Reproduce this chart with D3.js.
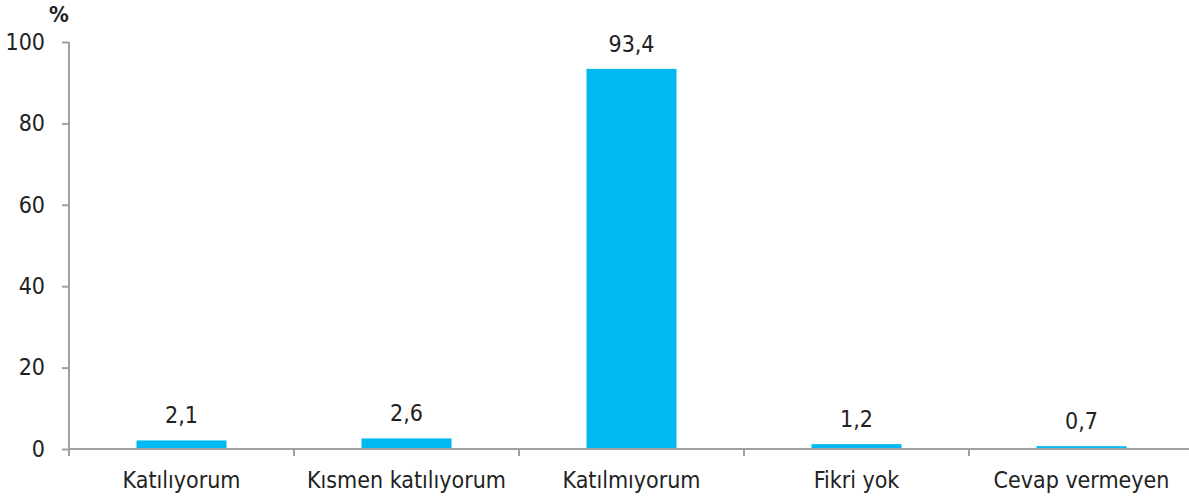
<!DOCTYPE html>
<html>
<head>
<meta charset="utf-8">
<script src="https://cdn.jsdelivr.net/npm/d3@7"></script>
<style>
  html, body { margin: 0; padding: 0; background: #fff; }
  svg { display: block; }
  text { font-family: "DejaVu Sans Condensed", "DejaVu Sans", sans-serif; font-stretch: condensed; fill: #222; }
</style>
</head>
<body>
<svg id="chart" width="1189" height="499"></svg>
<script>
const categories = ["Katılıyorum", "Kısmen katılıyorum", "Katılmıyorum", "Fikri yok", "Cevap vermeyen"];
const values = [2.1, 2.6, 93.4, 1.2, 0.7];
const valueLabels = ["2,1", "2,6", "93,4", "1,2", "0,7"];
const yTicks = [0, 20, 40, 60, 80, 100];
const yUnit = "%";

const svg = d3.select("#chart");
const axisColor = "#a0a0a0";
const barColor = "#00b9f2";
const fontSize = 23;
const fontFam = '"DejaVu Sans Condensed", "DejaVu Sans", sans-serif';

const x0 = 69, x1 = 1194, yBase = 449, yTop = 42;

const x = d3.scaleBand().domain(categories).range([x0, x1]).paddingInner(0).paddingOuter(0);
const y = d3.scaleLinear().domain([0, 100]).range([yBase, yTop]);
const barW = x.bandwidth() * 0.4;

// Bars
svg.append("g").selectAll("rect").data(values).join("rect")
  .attr("x", (d, i) => x(categories[i]) + (x.bandwidth() - barW) / 2)
  .attr("y", d => y(d))
  .attr("width", barW)
  .attr("height", d => y(0) - y(d))
  .attr("fill", barColor);

// Value labels
svg.append("g").selectAll("text").data(values).join("text")
  .attr("x", (d, i) => x(categories[i]) + x.bandwidth() / 2)
  .attr("y", d => y(d) - 17)
  .attr("text-anchor", "middle")
  .style("font-size", fontSize + "px")
  .text((d, i) => valueLabels[i]);

// Y axis
const yAxis = d3.axisLeft(y).tickValues(yTicks).tickSize(7).tickPadding(17).tickFormat(d3.format("d"));
const gy = svg.append("g").attr("transform", `translate(${x0},0)`).call(yAxis);
gy.select(".domain").remove();
gy.selectAll(".tick line").attr("stroke", axisColor).attr("stroke-width", 2);
gy.selectAll(".tick text").style("font-size", fontSize + "px").attr("fill", "#222")
  .style("font-family", fontFam);
svg.append("line").attr("x1", x0).attr("x2", x0).attr("y1", y(100)).attr("y2", yBase + 7)
  .attr("stroke", axisColor).attr("stroke-width", 2);

// X axis
const xAxis = d3.axisBottom(x).tickSize(0).tickPadding(23);
const gx = svg.append("g").attr("transform", `translate(0,${yBase})`).call(xAxis);
gx.select(".domain").remove();
gx.selectAll(".tick text").style("font-size", fontSize + "px").attr("fill", "#222")
  .style("font-family", fontFam);
svg.append("line").attr("x1", x0).attr("x2", x1).attr("y1", yBase).attr("y2", yBase)
  .attr("stroke", axisColor).attr("stroke-width", 2);
// boundary ticks
svg.append("g").selectAll("line").data(categories.slice(1)).join("line")
  .attr("x1", d => x(d)).attr("x2", d => x(d))
  .attr("y1", yBase).attr("y2", yBase + 7)
  .attr("stroke", axisColor).attr("stroke-width", 2);

// Unit label
svg.append("text").attr("x", 59).attr("y", 22).attr("text-anchor", "middle")
  .style("font-size", "22px").style("font-weight", "bold").text(yUnit);
</script>
</body>
</html>
